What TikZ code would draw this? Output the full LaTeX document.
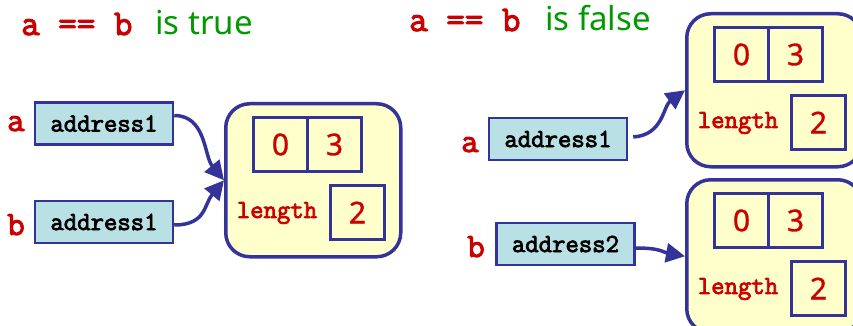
\documentclass[tikz,border=0pt]{standalone}
\usepackage{fontspec}
\setmainfont{Noto Sans}[AutoFakeBold=1]
\newfontfamily\monob{Latin Modern Mono}[AutoFakeBold=3]
\usetikzlibrary{arrows.meta}
\definecolor{ptrblue}{HTML}{333399}
\definecolor{celltext}{HTML}{CC0000}
\definecolor{truegreen}{HTML}{009900}
\definecolor{refbox}{HTML}{B9E0E4}
\definecolor{objfill}{HTML}{FFFFCC}
\tikzset{
  objbox/.style={draw=ptrblue, line width=3.5pt, fill=objfill, rounded corners=24pt, anchor=north west, minimum width=175pt, minimum height=153pt, inner sep=0pt},
  cellbox/.style={draw=ptrblue, line width=3pt, fill=objfill, minimum width=54pt, minimum height=54pt, inner sep=0pt, text=celltext, font=\bfseries\fontsize{30}{32}\selectfont},
  lenlabel/.style={text=celltext, font=\monob\bfseries\fontsize{26}{28}\selectfont, inner sep=0pt},
  refcell/.style={draw=ptrblue, line width=2.5pt, fill=refbox, minimum width=138pt, minimum height=42pt, inner sep=0pt, font=\monob\bfseries\fontsize{26}{28}\selectfont},
  varname/.style={text=celltext, font=\monob\bfseries\fontsize{34}{36}\selectfont, inner sep=0pt, anchor=base west},
  codetitle/.style={text=celltext, font=\monob\bfseries\fontsize{36}{38}\selectfont, inner sep=0pt, anchor=base west},
  verdict/.style={text=truegreen, font=\fontsize{33}{35}\selectfont, inner sep=0pt, anchor=base west},
  ptr/.style={draw=ptrblue, line width=3.5pt, -{Triangle[length=19pt,width=19pt]}},
}
\newcommand\memobject[3]{%
  \node[objbox] (#1) at (#2,#3) {};
  \node[cellbox] (#1zero) at (#2+56.5,#3+42.5) {0};
  \node[cellbox] (#1three) at (#2+110.5,#3+42.5) {3};
  \node[cellbox] (#1two) at (#2+133.5,#3+110.5) {2};
  \node[lenlabel] (#1len) at (#2+53,#3+111) {length};
}
\begin{document}
\begin{tikzpicture}[x=1pt,y=-1pt]
\useasboundingbox (0,0) rectangle (853,326);
\clip (0,0) rectangle (853,326);
% left: a == b is true
\node[codetitle] (t1) at (21,35) {a == b};
\node[verdict] (v1) at (155,35) {is true};
\node[refcell] (la) at (104,123.5) {address1};
\node[refcell] (lb) at (104,222) {address1};
\node[varname] (lan) at (7,131) {a};
\node[varname] (lbn) at (7,235) {b};
\memobject{L}{224}{102}
\draw[ptr] ([yshift=8pt]la.east) .. controls +(32,0) and +(-20,-24) .. (L.west);
\draw[ptr] ([yshift=-3pt]lb.east) .. controls +(32,0) and +(-20,24) .. (L.west);
% right: a == b is false
\node[codetitle] (t2) at (409,31) {a == b};
\node[verdict] (v2) at (545,31) {is false};
\memobject{RU}{685}{12}
\memobject{RL}{685}{178}
\node[refcell] (ra) at (558,139) {address1};
\node[refcell] (rb) at (565.5,244) {address2};
\node[varname] (ran) at (461,152) {a};
\node[varname] (rbn) at (467,257) {b};
\draw[ptr] ([xshift=5pt,yshift=2pt]ra.east) .. controls +(30,-2) and +(-22,16) .. (RU.west);
\draw[ptr] ([yshift=-4pt]rb.east) .. controls +(25,0) and +(-22,-4) .. (RL.west);
\end{tikzpicture}
\end{document}
